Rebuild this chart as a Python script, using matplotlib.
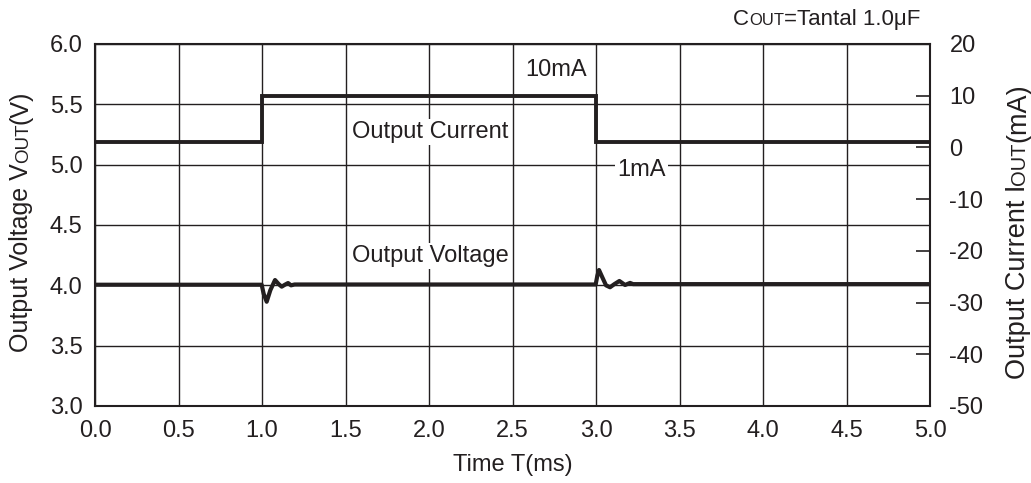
import numpy as np
import matplotlib
matplotlib.use("Agg")
import matplotlib.pyplot as plt
from matplotlib.transforms import IdentityTransform

plt.rcParams['font.family'] = ['Liberation Sans', 'DejaVu Sans']
plt.rcParams['axes.unicode_minus'] = False

# Output current step (mA), drawn as steps-post
t_cur = [0.0, 1.0, 3.0, 5.0]
i_cur = [1.0, 10.0, 1.0, 1.0]

# Output voltage (V) with ringing at the load steps
t_volt = [0.0, 0.998, 1.010, 1.028, 1.050, 1.078, 1.100, 1.118, 1.137, 1.156, 1.174, 1.195,
          2.998, 3.008, 3.018, 3.040, 3.060, 3.084, 3.110, 3.140, 3.174, 3.204, 3.222, 5.0]
v_volt = [4.005, 4.005, 3.93, 3.864, 3.96, 4.044, 4.01, 3.989, 4.005, 4.019, 4.000, 4.007,
          4.007, 4.08, 4.127, 4.06, 4.00, 3.984, 4.01, 4.036, 4.003, 4.020, 4.010, 4.010]

x_ticks = [0.0, 0.5, 1.0, 1.5, 2.0, 2.5, 3.0, 3.5, 4.0, 4.5, 5.0]
v_ticks = [3.0, 3.5, 4.0, 4.5, 5.0, 5.5, 6.0]
i_ticks = [-50, -40, -30, -20, -10, 0, 10, 20]

ink = '#231f20'
fs = 17

fig = plt.figure(figsize=(10.31, 4.83), dpi=100)
ax = fig.add_axes([95/1031, 1-406/483, 835/1031, 362/483])
ax2 = ax.twinx()

ax.plot(t_cur, np.interp(i_cur, [-50, 20], [3.0, 6.0]), drawstyle='steps-post',
        color=ink, lw=2.8, solid_joinstyle='miter', zorder=4)
ax.plot(t_volt, v_volt, color=ink, lw=3.0, solid_joinstyle='round', zorder=4)

ax.set_xlim(0, 5)
ax.set_ylim(3, 6)
ax.set_xticks(x_ticks)
ax.set_xticklabels([f'{v:.1f}' for v in x_ticks])
ax.set_yticks(v_ticks)
ax.set_yticklabels([f'{v:.1f}' for v in v_ticks])
ax.grid(True, color=ink, lw=1.0)
ax.tick_params(axis='x', length=0, labelsize=fs, colors=ink, pad=10)
ax.tick_params(axis='y', length=0, labelsize=fs, colors=ink, pad=9)
for s in ax.spines.values():
    s.set_color(ink)
    s.set_linewidth(1.5)

ax2.set_ylim(-50, 20)
ax2.set_yticks(i_ticks)
ax2.tick_params(direction='in', length=10, width=1.2, labelsize=fs, colors=ink, pad=14)
for s in ax2.spines.values():
    s.set_visible(False)

ax.set_xlabel('Time T(ms)', fontsize=fs, color=ink, labelpad=9)

box = dict(facecolor='white', edgecolor='none', pad=1.5)
ax.text(2.76, 5.785, '10mA', fontsize=fs, color=ink, ha='center', va='center', bbox=box, zorder=3)
ax.text(1.54, 5.27, 'Output Current', fontsize=fs, color=ink, ha='left', va='center', bbox=box, zorder=3)
ax.text(3.126, 4.956, '1mA', fontsize=fs, color=ink, ha='left', va='center', bbox=box, zorder=3)
ax.text(1.54, 4.243, 'Output Voltage', fontsize=fs, color=ink, ha='left', va='center', bbox=box, zorder=3)

renderer = fig.canvas.get_renderer()


def rich(x, y, pieces, rotation=0):
    # draw consecutive text pieces (small caps emulation), coordinates in pixels
    for s, size in pieces:
        t = fig.text(x, y, s, fontsize=size, color=ink, rotation=rotation,
                     rotation_mode='anchor', ha='left', va='baseline',
                     transform=IdentityTransform())
        bb = t.get_window_extent(renderer)
        if rotation == 90:
            y += bb.height
        else:
            x += bb.width


H = 483
rich(733, H - 25, [('C', 16), ('OUT', 12), ('=Tantal 1.0\u03bcF', 16)])
rich(28, H - 352, [('Output Voltage V', 18), ('OUT', 13.5), ('(V)', 18)], rotation=90)
rich(1025, H - 379, [('Output Current I', 19.5), ('OUT', 14.5), ('(mA)', 19.5)], rotation=90)

fig.savefig('out.png', dpi=100)
